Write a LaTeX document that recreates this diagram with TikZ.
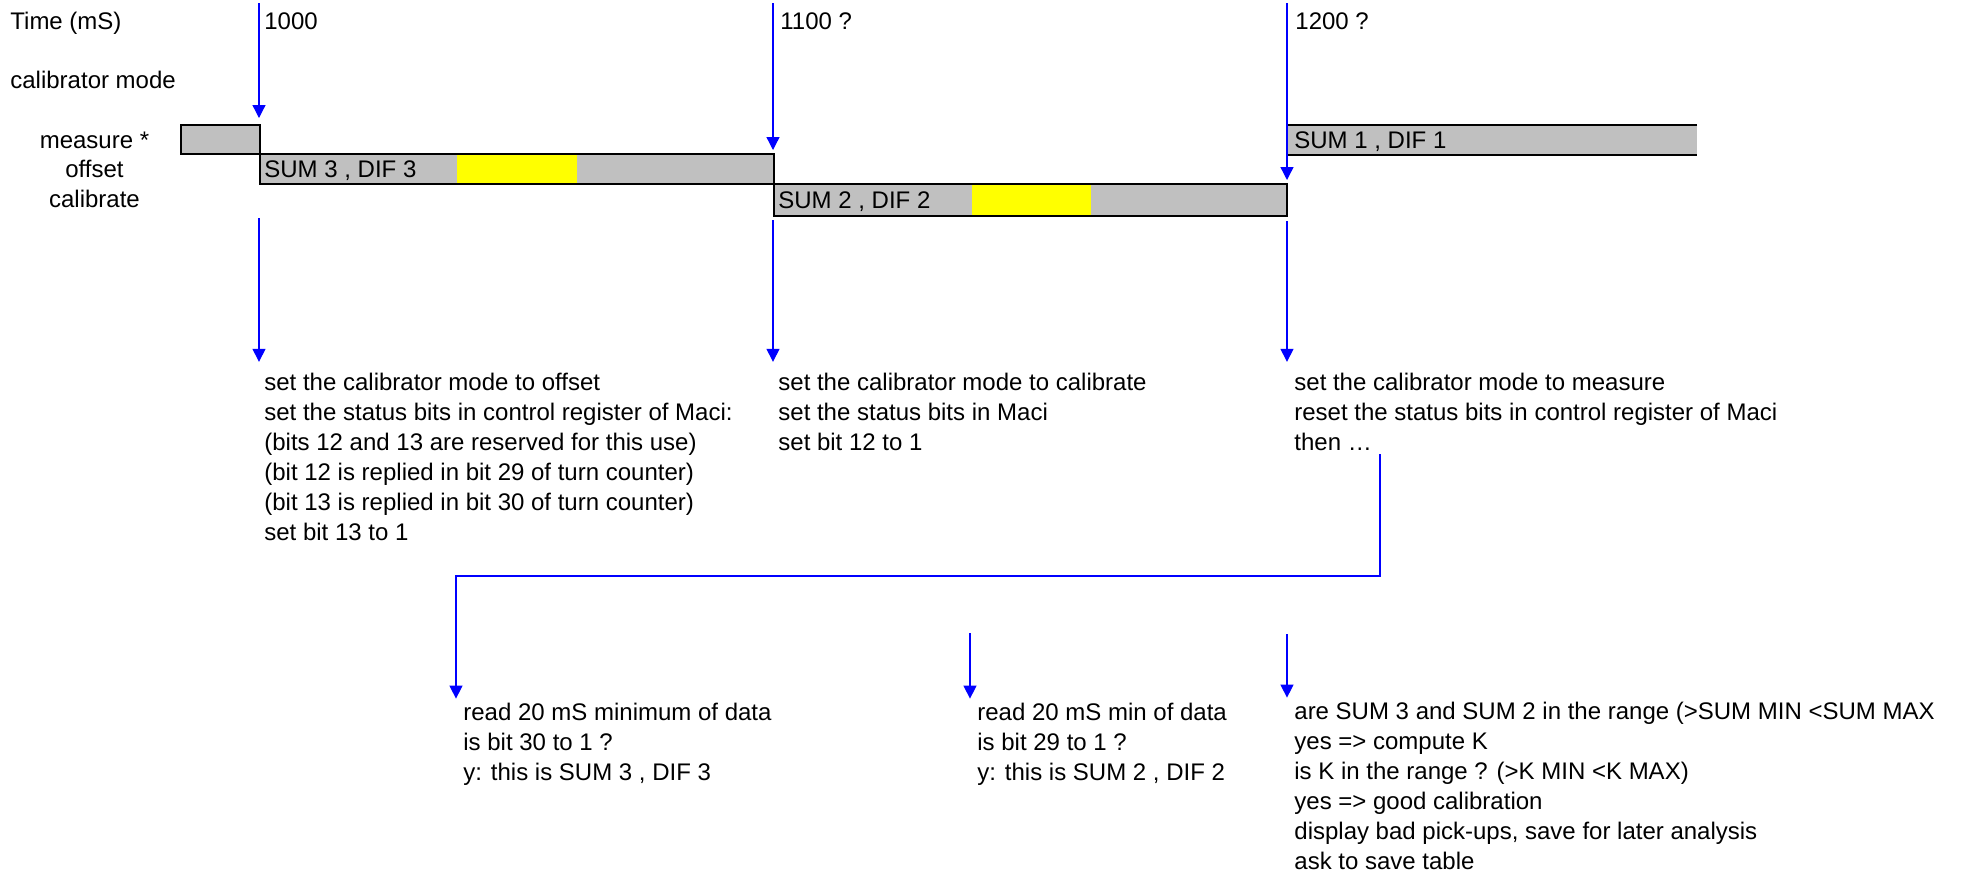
\documentclass[tikz,border=0pt]{standalone}
\usepackage{fontspec}
\setmainfont{Liberation Sans}
\usetikzlibrary{arrows.meta}
\definecolor{CalGray}{HTML}{C0C0C0}
\definecolor{CalYellow}{HTML}{FFFF00}
\definecolor{CalBlue}{HTML}{0000FF}

\begin{document}
\begin{tikzpicture}[x=0.5pt,y=-0.5pt,>={Triangle[width=6.5pt,length=6.5pt]}]
  \tikzstyle{lbl}=[inner sep=0pt, anchor=base west, align=left, font=\fontsize{12}{15}\selectfont]
  \tikzstyle{modelbl}=[lbl, anchor=base, align=center]
  \tikzstyle{tick}=[->, draw=CalBlue, line width=0.65pt]
  \tikzstyle{slot}=[draw=black, line width=1pt]
  \useasboundingbox (0,0) rectangle (1967,875);

  % mode slots
  \fill[CalGray] (181,125) rectangle (260,154);
  \draw[slot] (181,125) rectangle (260,154);
  \fill[CalGray] (260,154) rectangle (774,184);
  \fill[CalYellow] (457,154) rectangle (577,184);
  \draw[slot] (260,154) rectangle (774,184);
  \fill[CalGray] (774,184) rectangle (1287,216);
  \fill[CalYellow] (972,184) rectangle (1091,216);
  \draw[slot] (774,184) rectangle (1287,216);
  \fill[CalGray] (1287,125) rectangle (1697,155);
  \draw[slot] (1697,125) -- (1287,125) -- (1287,155) -- (1697,155);

  \node[lbl] (time) at (10,29) {Time (mS)};
  \node[lbl] (calmode) at (10,88) {calibrator mode};
  \node[modelbl] (measure) at (94.5,148) {measure *};
  \node[modelbl] (offset) at (94.5,177) {offset};
  \node[modelbl] (calib) at (94.5,207) {calibrate};
  \node[lbl] (s3) at (264,177) {SUM 3 , DIF 3};
  \node[lbl] (s2) at (778,208) {SUM 2 , DIF 2};
  \node[lbl] (s1) at (1294,148) {SUM 1 , DIF 1};

  \node[lbl] (m1) at (264,29) {1000};
  \node[lbl] (m2) at (780,29) {1100 ?};
  \node[lbl] (m3) at (1295,29) {1200 ?};

  % blocks sit on the baseline of their last line
  \node[lbl] (b1) at (264,540) {set the calibrator mode to offset\\
    set the status bits in control register of Maci:\\
    (bits 12 and 13 are reserved for this use)\\
    (bit 12 is replied in bit 29 of turn counter)\\
    (bit 13 is replied in bit 30 of turn counter)\\
    set bit 13 to 1};
  \node[lbl] (b2) at (778,450) {set the calibrator mode to calibrate\\
    set the status bits in Maci\\
    set bit 12 to 1};
  \node[lbl] (b3) at (1294,450) {set the calibrator mode to measure\\
    reset the status bits in control register of Maci\\
    then …};

  \node[lbl] (r1) at (463,780) {read 20 mS minimum of data\\
    is bit 30 to 1 ?\\
    y: this is SUM 3 , DIF 3};
  \node[lbl] (r2) at (977,780) {read 20 mS min of data\\
    is bit 29 to 1 ?\\
    y: this is SUM 2 , DIF 2};
  \node[lbl] (r3) at (1294,869) {are SUM 3 and SUM 2 in the range (>SUM MIN <SUM MAX\\
    yes => compute K\\
    is K in the range ? (>K MIN <K MAX)\\
    yes => good calibration\\
    display bad pick-ups, save for later analysis\\
    ask to save table};

  % time marks
  \coordinate (t1) at (259,3);
  \coordinate (t2) at (773,3);
  \coordinate (t3) at (1287,3);
  \draw[tick] (t1) -- (259,118);
  \draw[tick] (t2) -- (773,150);
  \draw[tick] (t3) -- (1287,180);

  \coordinate (d1) at (259,218);
  \coordinate (d2) at (773,220);
  \coordinate (d3) at (1287,221);
  \draw[tick, shorten >=5.2pt] (d1) -- (d1 |- b1.north);
  \draw[tick, shorten >=5.2pt] (d2) -- (d2 |- b2.north);
  \draw[tick, shorten >=5.2pt] (d3) -- (d3 |- b3.north);

  \coordinate (then) at (1380,454);
  \coordinate (split) at (456,576);
  \draw[tick, shorten >=1.8pt] (then) |- (split) -- (split |- r1.north);
  \coordinate (e2) at (970,633);
  \coordinate (e3) at (1287,634);
  \draw[tick, shorten >=1.8pt] (e2) -- (e2 |- r2.north);
  \draw[tick, shorten >=1.8pt] (e3) -- (e3 |- r3.north);
\end{tikzpicture}
\end{document}
